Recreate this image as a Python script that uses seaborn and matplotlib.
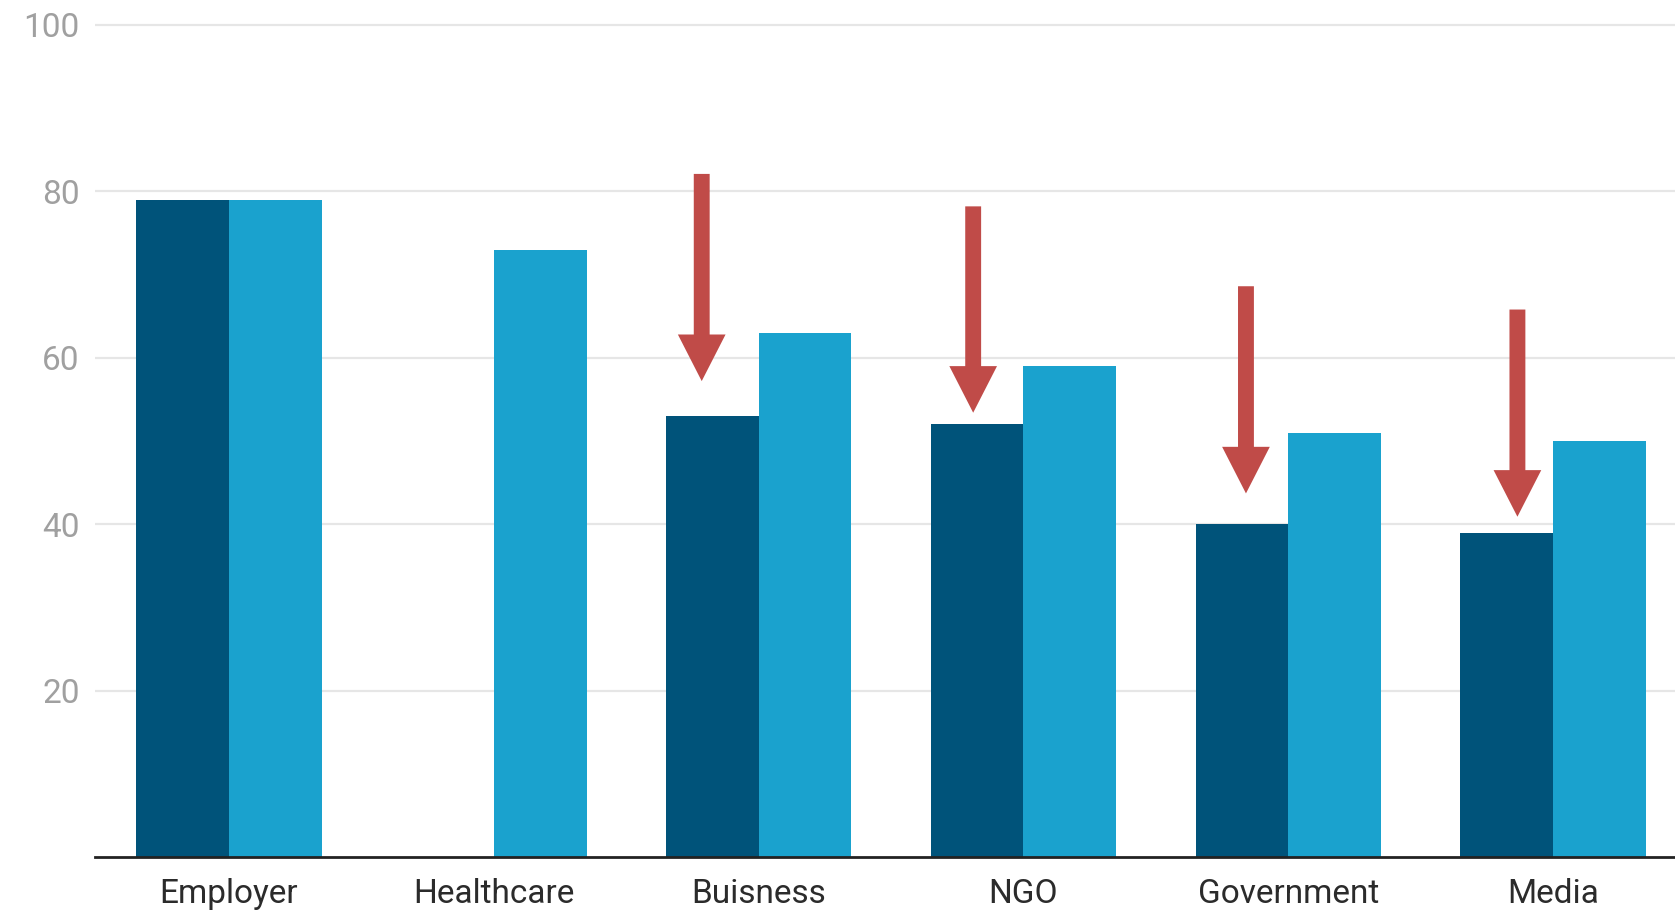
import numpy as np
import pandas as pd
import matplotlib
matplotlib.use("Agg")
import matplotlib.pyplot as plt
import seaborn as sns

# Trust scores by institution, two survey waves
categories = ["Employer", "Healthcare", "Buisness", "NGO", "Government", "Media"]
previous = [79, np.nan, 53, 52, 40, 39]
current = [79, 73, 63, 59, 51, 50]
series_names = ["Previous", "Current"]
y_ticks = [20, 40, 60, 80, 100]

# Downward arrows highlighting the drop (x position, start, end)
arrow_x = [1.785, 2.81, 3.84, 4.865]
arrow_start = [82.1, 78.2, 68.6, 65.8]
arrow_end = [57.2, 53.4, 43.7, 40.9]

df = pd.DataFrame({
    "category": categories * 2,
    "series": [series_names[0]] * len(categories) + [series_names[1]] * len(categories),
    "value": previous + current,
})

sns.set_theme(style="white")
plt.rcParams["font.family"] = ["Roboto", "DejaVu Sans"]

fig = plt.figure(figsize=(16.75, 9.13), dpi=100)
ax = fig.add_axes([0.0567, 0.0613, 0.9433, 0.9159])

sns.barplot(
    data=df, x="category", y="value", hue="series",
    order=categories, hue_order=series_names,
    palette=["#00537A", "#1AA2CE"], width=0.7, saturation=1,
    linewidth=0, legend=False, ax=ax,
)

for x, y0, y1 in zip(arrow_x, arrow_start, arrow_end):
    ax.arrow(x, y0, 0, y1 - y0, width=0.06, head_width=0.18, head_length=5.6,
             length_includes_head=True, color="#C04B48", linewidth=0, zorder=5)

ax.set_xlim(-0.506, 5.46)
ax.set_ylim(0, 100.5)
ax.set_yticks(y_ticks)
ax.set_yticklabels([str(t) for t in y_ticks])
ax.yaxis.grid(True, color="#E6E6E6", linewidth=1.6)
ax.set_axisbelow(True)

for side in ["top", "right", "left"]:
    ax.spines[side].set_visible(False)
ax.spines["bottom"].set_color("#222222")
ax.spines["bottom"].set_linewidth(2)
ax.spines["bottom"].set_zorder(6)

ax.tick_params(axis="y", length=0, pad=11, labelsize=24, labelcolor="#A0A0A0")
ax.tick_params(axis="x", length=0, pad=15, labelsize=24, labelcolor="#2B2B2B")
ax.set_xlabel("")
ax.set_ylabel("")

fig.savefig("out.png", dpi=100)
